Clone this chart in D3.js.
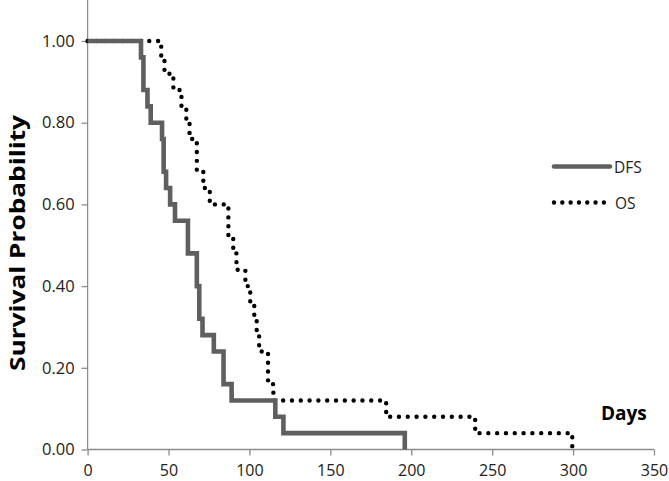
<!DOCTYPE html>
<html>
<head>
<meta charset="utf-8">
<script src="https://cdn.jsdelivr.net/npm/d3@7"></script>
<style>
body { margin: 0; background: #fff; }
svg { display: block; }
</style>
</head>
<body>
<div id="chart"></div>
<script>
// Kaplan-Meier steps (days, survival)
var dfsDays = [0, 33, 34.5, 37, 39, 46, 47, 48.5, 51, 54, 62, 67.5, 69, 71, 78, 84, 89, 116, 121, 196];
var dfsSurv = [1.00, 0.96, 0.88, 0.84, 0.80, 0.76, 0.68, 0.64, 0.60, 0.56, 0.48, 0.40, 0.32, 0.28, 0.24, 0.16, 0.12, 0.08, 0.04, 0.00];
var osDays = [0, 45.5, 47.5, 53, 58, 61, 63, 67.5, 71.5, 75.5, 87, 90, 92, 97.5, 100.5, 103, 104.5, 106, 108, 111.5, 114.8, 184.5, 239.5, 299.5];
var osSurv = [1.00, 0.96, 0.92, 0.88, 0.84, 0.80, 0.76, 0.68, 0.64, 0.60, 0.52, 0.48, 0.44, 0.40, 0.36, 0.32, 0.28, 0.24, 0.24, 0.16, 0.12, 0.08, 0.04, 0.00];
var xTicks = [0, 50, 100, 150, 200, 250, 300, 350];
var yTicks = [0, 0.2, 0.4, 0.6, 0.8, 1.0];
var seriesNames = ["DFS", "OS"];

var w_svg = 669, h_svg = 481;
var x0 = 87.6, x1 = 654, yBottom = 449.5, yTop = 41;

var svg = d3.select("#chart").append("svg")
  .attr("width", w_svg).attr("height", h_svg);

var x = d3.scaleLinear().domain([0, 350]).range([x0, x1]);
var y = d3.scaleLinear().domain([0, 1]).range([yBottom, yTop]);

var axisColor = "#8c8c8c";
var font = "'Open Sans', 'Noto Sans', sans-serif";

// y axis line goes up to the top of the picture
svg.append("line")
  .attr("x1", x0).attr("x2", x0).attr("y1", 0).attr("y2", yBottom)
  .style("stroke", axisColor).style("stroke-width", 1.3);
svg.append("line")
  .attr("x1", x0).attr("x2", x1).attr("y1", yBottom).attr("y2", yBottom)
  .style("stroke", axisColor).style("stroke-width", 1.3);

var yAxis = d3.axisLeft(y).tickValues(yTicks).tickSize(6).tickPadding(7)
  .tickFormat(d3.format(".2f"));
var gy = svg.append("g").attr("transform", "translate(" + x0 + ",0)").call(yAxis);
gy.select(".domain").remove();
gy.selectAll("line").style("stroke", axisColor).style("stroke-width", 1.3);
gy.selectAll("text").style("font-family", font).style("font-size", "16.5px").style("fill", "#222");

var xAxis = d3.axisBottom(x).tickValues(xTicks).tickSize(6).tickPadding(9);
var gx = svg.append("g").attr("transform", "translate(0," + yBottom + ")").call(xAxis);
gx.select(".domain").remove();
gx.selectAll("line").style("stroke", axisColor).style("stroke-width", 1.3);
gx.selectAll("text").style("font-family", font).style("font-size", "16px").style("fill", "#222");

function stepData(days, surv) {
  return days.map(function(d, i) { return { t: d, s: surv[i] }; });
}
var line = d3.line()
  .x(function(d) { return x(d.t); })
  .y(function(d) { return y(d.s); })
  .curve(d3.curveStepAfter);

svg.append("path")
  .datum(stepData(osDays, osSurv))
  .attr("d", line)
  .style("fill", "none")
  .style("stroke", "#000")
  .style("stroke-width", 4.4)
  .style("stroke-linecap", "round")
  .style("stroke-dasharray", "0.01 8.8");

svg.append("path")
  .datum(stepData(dfsDays, dfsSurv))
  .attr("d", line)
  .style("fill", "none")
  .style("stroke", "#5f5f5f")
  .style("stroke-width", 4.6);

// legend
var legend = svg.append("g");
legend.append("line")
  .attr("x1", 554).attr("x2", 610).attr("y1", 166.5).attr("y2", 166.5)
  .style("stroke", "#5f5f5f").style("stroke-width", 4.6).style("stroke-linecap", "round");
legend.append("line")
  .attr("x1", 554).attr("x2", 604).attr("y1", 202.5).attr("y2", 202.5)
  .style("stroke", "#000").style("stroke-width", 4.4).style("stroke-linecap", "round")
  .style("stroke-dasharray", "0.01 8.3");
legend.selectAll("text.lab").data(seriesNames).enter().append("text")
  .attr("x", function(d, i) { return i == 0 ? 614 : 615; })
  .attr("y", function(d, i) { return i == 0 ? 172.5 : 208.5; })
  .style("font-family", font).style("font-size", "15.5px").style("fill", "#222")
  .text(function(d) { return d; });

// titles
svg.append("text")
  .attr("transform", "translate(25,243) rotate(-90)")
  .attr("text-anchor", "middle")
  .attr("textLength", 256).attr("lengthAdjust", "spacingAndGlyphs")
  .style("font-family", font).style("font-weight", "bold").style("font-size", "22px")
  .text("Survival Probability");
svg.append("text")
  .attr("x", 601).attr("y", 420)
  .style("font-family", font).style("font-weight", "bold").style("font-size", "19px")
  .text("Days");
</script>
</body>
</html>
